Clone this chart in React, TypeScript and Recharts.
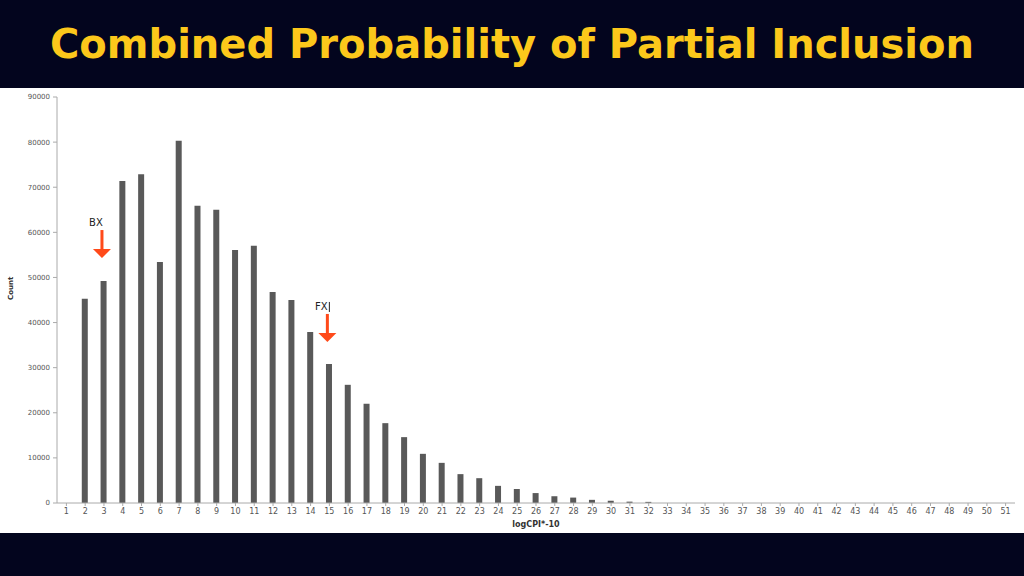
import React from 'react';
import { BarChart, Bar, XAxis, YAxis, ReferenceDot } from 'recharts';

const categories = Array.from({ length: 51 }, (_, i) => String(i + 1));
const counts = [
  0, 45300, 49200, 71400, 72900, 53400, 80300, 65900, 65000, 56100,
  57000, 46800, 45000, 37900, 30800, 26200, 22000, 17700, 14600, 10900,
  8900, 6400, 5500, 3800, 3100, 2200, 1500, 1200, 700, 500,
  300, 250, 0, 0, 0, 0, 0, 0, 0, 0,
  0, 0, 0, 0, 0, 0, 0, 0, 0, 0, 0,
];
const yTicks = [0, 10000, 20000, 30000, 40000, 50000, 60000, 70000, 80000, 90000];

// arrow annotations: label, category, value at arrow tip
const markers = [
  { label: 'BX', cat: '3', tip: 54300 },
  { label: 'FX', cat: '15', tip: 35700 },
];

const data = categories.map((c, i) => ({ name: c, count: counts[i] }));

const Arrow = (props: any) => {
  const { cx, cy, label } = props;
  const x = cx - 2;
  return (
    <g>
      <text x={x - 6} y={cy - 32} fontSize={10} fontFamily="DejaVu Sans" fill="#222" textAnchor="middle">
        {label}
      </text>
      {label === 'FX' && <line x1={x + 2} y1={cy - 40} x2={x + 2} y2={cy - 30} stroke="#222" strokeWidth={1} />}
      <rect x={x - 1.5} y={cy - 28} width={3} height={20} fill="#FF4A1A" />
      <polygon points={`${x - 9},${cy - 9} ${x + 9},${cy - 9} ${x},${cy}`} fill="#FF4A1A" />
    </g>
  );
};

export default function App() {
  return (
    <div style={{ position: 'absolute', left: 0, top: 0, width: 1024, height: 576, background: '#03051E' }}>
      <div
        style={{
          height: 88,
          lineHeight: '88px',
          textAlign: 'center',
          color: '#FCC81B',
          fontFamily: 'DejaVu Sans, Verdana, sans-serif',
          fontWeight: 'bold',
          fontSize: 40,
        }}
      >
        Combined Probability of Partial Inclusion
      </div>
      <div style={{ background: '#fff', width: 1024, height: 445 }}>
        <BarChart width={1024} height={445} data={data} margin={{ top: 9, right: 9, left: 7, bottom: 0 }}>
          <XAxis
            dataKey="name"
            tick={{ fontSize: 8, fill: '#555', fontFamily: 'DejaVu Sans' }}
            tickLine={{ stroke: '#aaa' }}
            tickSize={3}
            axisLine={{ stroke: '#aaa' }}
            interval={0}
            height={30}
            label={{ value: 'logCPI*-10', position: 'insideBottom', offset: 6, fontSize: 8, fontWeight: 'bold', fill: '#333', fontFamily: 'DejaVu Sans' }}
          />
          <YAxis
            domain={[0, 90000]}
            ticks={yTicks}
            width={50}
            tick={{ fontSize: 7, fill: '#555', fontFamily: 'DejaVu Sans' }}
            tickLine={{ stroke: '#aaa' }}
            tickSize={4}
            tickMargin={3}
            axisLine={{ stroke: '#aaa' }}
            label={{ value: 'Count', angle: -90, position: 'insideLeft', offset: 4, fontSize: 7, fontWeight: 'bold', fill: '#333', fontFamily: 'DejaVu Sans' }}
          />
          <Bar dataKey="count" fill="#595959" barSize={6} isAnimationActive={false} />
          {markers.map((m) => (
            <ReferenceDot
              key={m.label}
              x={m.cat}
              y={m.tip}
              r={0}
              shape={(p: any) => <Arrow {...p} label={m.label} />}
            />
          ))}
        </BarChart>
      </div>
    </div>
  );
}
